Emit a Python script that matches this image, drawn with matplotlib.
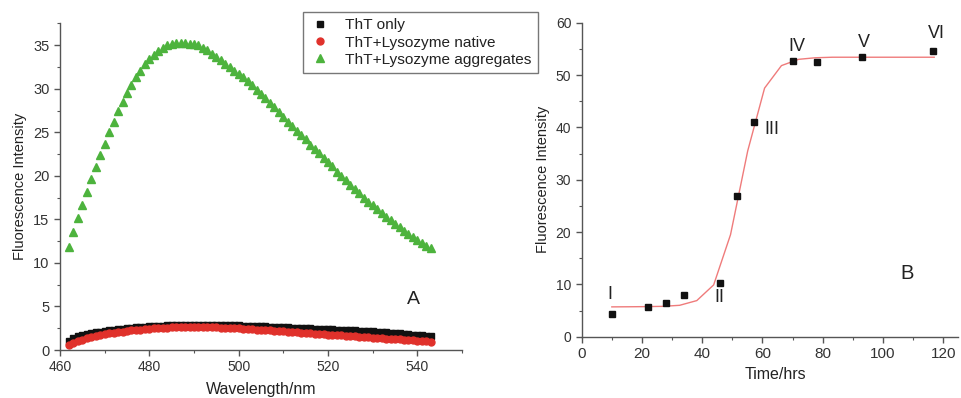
import numpy as np
import matplotlib
matplotlib.use("Agg")
import matplotlib.pyplot as plt
from matplotlib.ticker import MultipleLocator

plt.rcParams["font.family"] = ["Liberation Sans", "DejaVu Sans"]

# Panel A: emission spectra, one point per nm
wavelength = np.arange(462, 544)

tht_only = [
    1.00, 1.40, 1.60, 1.75, 1.85, 1.95, 2.05, 2.12, 2.20, 2.27,
    2.34, 2.40, 2.45, 2.50, 2.55, 2.60, 2.64, 2.68, 2.72, 2.75,
    2.78, 2.81, 2.83, 2.85, 2.87, 2.89, 2.90, 2.91, 2.92, 2.92,
    2.92, 2.91, 2.90, 2.89, 2.88, 2.87, 2.85, 2.84, 2.82, 2.80,
    2.78, 2.76, 2.74, 2.72, 2.70, 2.68, 2.66, 2.64, 2.62, 2.60,
    2.57, 2.55, 2.52, 2.50, 2.48, 2.46, 2.44, 2.42, 2.40, 2.37,
    2.35, 2.33, 2.30, 2.28, 2.25, 2.23, 2.20, 2.18, 2.15, 2.12,
    2.08, 2.04, 2.00, 1.95, 1.90, 1.85, 1.80, 1.76, 1.72, 1.68,
    1.64, 1.60,
]

tht_native = [
    0.60, 0.85, 1.05, 1.20, 1.35, 1.50, 1.60, 1.72, 1.82, 1.90,
    1.98, 2.05, 2.12, 2.18, 2.24, 2.30, 2.35, 2.40, 2.44, 2.48,
    2.52, 2.55, 2.58, 2.60, 2.62, 2.64, 2.65, 2.66, 2.66, 2.66,
    2.65, 2.64, 2.62, 2.60, 2.58, 2.56, 2.54, 2.51, 2.48, 2.45,
    2.42, 2.38, 2.35, 2.31, 2.28, 2.24, 2.21, 2.17, 2.14, 2.10,
    2.07, 2.03, 2.00, 1.96, 1.92, 1.89, 1.85, 1.82, 1.78, 1.75,
    1.71, 1.67, 1.64, 1.60, 1.57, 1.53, 1.49, 1.46, 1.42, 1.39,
    1.35, 1.31, 1.28, 1.24, 1.21, 1.17, 1.13, 1.10, 1.06, 1.03,
    0.99, 0.95,
]

tht_aggregates = [
    11.8, 13.6, 15.2, 16.7, 18.1, 19.6, 21.0, 22.4, 23.7, 25.0,
    26.2, 27.4, 28.5, 29.5, 30.4, 31.3, 32.1, 32.8, 33.4, 33.9,
    34.3, 34.7, 35.0, 35.2, 35.3, 35.3, 35.3, 35.2, 35.1, 35.0,
    34.7, 34.4, 34.0, 33.7, 33.3, 32.9, 32.5, 32.1, 31.7, 31.3,
    30.9, 30.4, 29.9, 29.4, 28.9, 28.4, 27.9, 27.3, 26.8, 26.2,
    25.7, 25.2, 24.7, 24.2, 23.6, 23.1, 22.6, 22.1, 21.6, 21.1,
    20.5, 20.0, 19.5, 19.0, 18.5, 18.0, 17.5, 17.0, 16.6, 16.2,
    15.7, 15.3, 14.9, 14.5, 14.1, 13.7, 13.3, 13.0, 12.6, 12.3,
    12.0, 11.7,
]

# Panel B: kinetics
time_hrs = [10, 22, 28, 34, 46, 51.5, 57.3, 70.1, 78.1, 92.9, 116.6]
intensity = [4.3, 5.6, 6.5, 7.9, 10.3, 26.9, 41.1, 52.7, 52.5, 53.5, 54.5]

fit_time = [10.0, 15.6, 21.3, 26.9, 32.5, 38.2, 43.8, 49.4, 55.1, 60.7,
            66.3, 72.0, 77.6, 83.2, 88.8, 94.5, 100.1, 105.7, 111.4, 117.0]
fit_value = [5.70, 5.72, 5.75, 5.80, 6.00, 6.90, 9.90, 19.5, 35.5, 47.5,
             51.8, 53.0, 53.3, 53.4, 53.4, 53.4, 53.4, 53.4, 53.4, 53.4]

stage_labels = ["I", "II", "III", "IV", "V", "VI"]
stage_x = [9.4, 45.6, 63.0, 71.3, 93.7, 117.6]
stage_y = [8.0, 7.4, 39.5, 55.5, 56.2, 58.0]

TICK_COLOR = "#333333"
SPINE_COLOR = "#555555"


def _style_axes(ax, xtick_size, ytick_size):
    for side in ("top", "right"):
        ax.spines[side].set_visible(False)
    for side in ("left", "bottom"):
        ax.spines[side].set_color(SPINE_COLOR)
        ax.spines[side].set_linewidth(1.0)
    ax.tick_params(which="both", direction="out", colors=SPINE_COLOR, labelcolor=TICK_COLOR)
    ax.tick_params(which="major", length=4, width=1.0)
    ax.tick_params(which="minor", length=2.5, width=0.8)
    ax.tick_params(axis="x", labelsize=xtick_size)
    ax.tick_params(axis="y", labelsize=ytick_size)


fig = plt.figure(figsize=(9.61, 3.98), dpi=100)

# ---- Panel A ----
ax_a = fig.add_axes([0.0624, 0.1206, 0.4184, 0.8204])
ax_a.plot(wavelength, tht_only, "s", color="#111111", ms=4, mec="#111111", label="ThT only")
ax_a.plot(wavelength, tht_native, "o", color="#e0312b", ms=5, mec="#e0312b", label="ThT+Lysozyme native")
ax_a.plot(wavelength, tht_aggregates, "^", color="#4db33d", ms=6.2, mec="#4db33d", label="ThT+Lysozyme aggregates")
ax_a.set_xlim(460, 550)
ax_a.set_ylim(0, 37.5)
ax_a.xaxis.set_major_locator(MultipleLocator(20))
ax_a.xaxis.set_minor_locator(MultipleLocator(10))
ax_a.yaxis.set_major_locator(MultipleLocator(5))
ax_a.yaxis.set_minor_locator(MultipleLocator(2.5))
_style_axes(ax_a, 10, 10.5)
ax_a.set_xlabel("Wavelength/nm", fontsize=11.5, color="#222222")
ax_a.set_ylabel("Fluorescence Intensity", fontsize=10.5, color="#222222")
ax_a.xaxis.set_label_coords(0.5, -0.098)
ax_a.yaxis.set_label_coords(-0.082, 0.5)
ax_a.text(539.2, 5.8, "A", fontsize=14, ha="center", va="center", color="#222222")

handles, labels = ax_a.get_legend_handles_labels()
leg = fig.legend(handles, labels, loc="upper left",
                 bbox_to_anchor=(302.7 / 961, 1 - 12.3 / 398),
                 bbox_transform=fig.transFigure, borderaxespad=0,
                 fontsize=11.1, frameon=True, fancybox=False,
                 handlelength=1.4, handletextpad=0.95, labelspacing=0.2,
                 borderpad=0.4, markerscale=1.0)
leg.get_frame().set_edgecolor("#555555")
leg.get_frame().set_linewidth(1.0)
for t in leg.get_texts():
    t.set_color("#222222")

# ---- Panel B ----
ax_b = fig.add_axes([0.6053, 0.154, 0.3919, 0.789])
ax_b.plot(fit_time, fit_value, "-", color="#ef7b7b", lw=1.0)
ax_b.plot(time_hrs, intensity, "s", color="#111111", ms=5, mec="#111111")
ax_b.set_xlim(0, 125)
ax_b.set_ylim(0, 60)
ax_b.xaxis.set_major_locator(MultipleLocator(20))
ax_b.xaxis.set_minor_locator(MultipleLocator(10))
ax_b.yaxis.set_major_locator(MultipleLocator(10))
ax_b.yaxis.set_minor_locator(MultipleLocator(5))
_style_axes(ax_b, 11, 10)
ax_b.set_xlabel("Time/hrs", fontsize=11.5, color="#222222")
ax_b.set_ylabel("Fluorescence Intensity", fontsize=10.5, color="#222222")
ax_b.xaxis.set_label_coords(0.515, -0.096)
ax_b.yaxis.set_label_coords(-0.084, 0.5)
for lab, x, y in zip(stage_labels, stage_x, stage_y):
    ax_b.text(x, y, lab, fontsize=13, ha="center", va="center", color="#222222")
ax_b.text(107.9, 12.0, "B", fontsize=14.5, ha="center", va="center", color="#222222")

fig.savefig("out.png", dpi=100)
